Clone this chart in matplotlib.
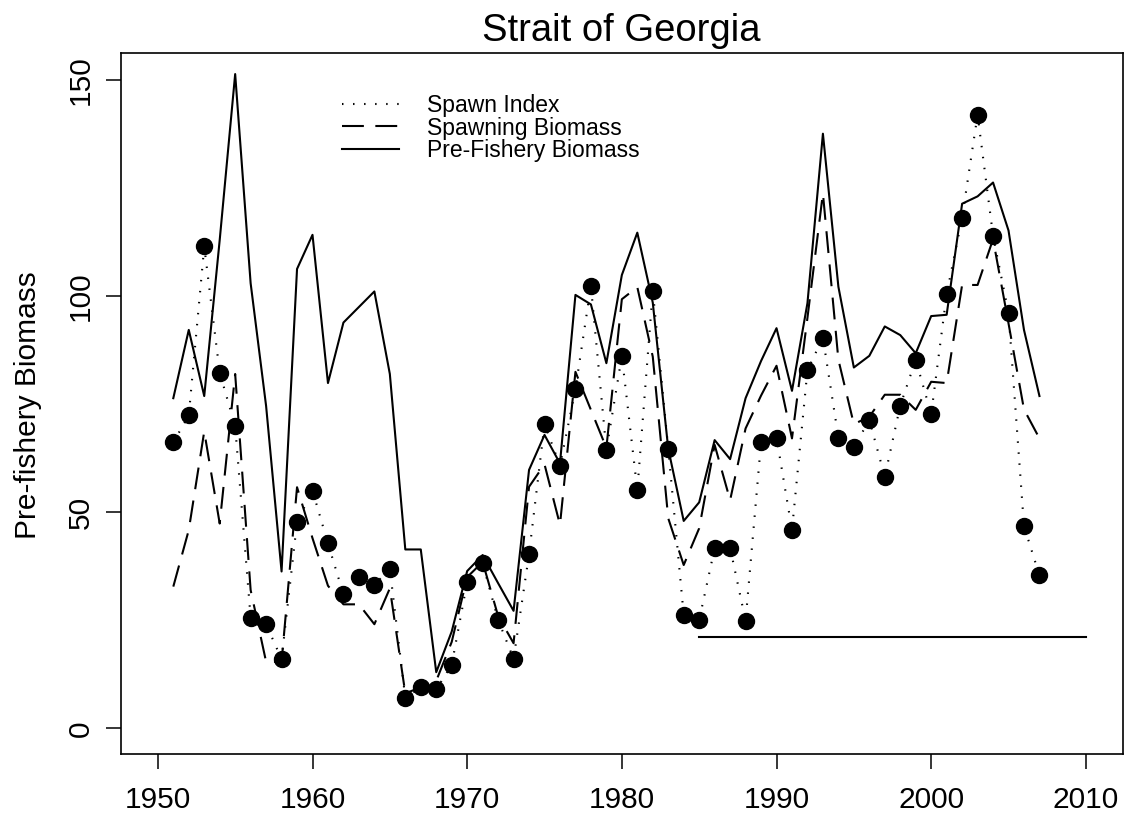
import numpy as np
import matplotlib
matplotlib.use('Agg')
import matplotlib.pyplot as plt

plt.rcParams['font.family'] = ['Liberation Sans', 'DejaVu Sans']

# 数据
years = list(range(1951, 2008))

spawn_index = [66.2, 72.4, 111.5, 82.3, 69.9, 25.6, 24.1, 16.0, 47.8, 55.0,
               42.8, 31.0, 35.1, 33.2, 36.9, 7.0, 9.5, 9.0, 14.7, 33.9,
               38.2, 25.1, 16.1, 40.3, 70.4, 60.8, 78.5, 102.4, 64.4, 86.2,
               55.1, 101.3, 64.7, 26.2, 25.1, 41.7, 41.8, 24.9, 66.2, 67.3,
               45.9, 82.9, 90.4, 67.3, 65.0, 71.4, 58.2, 74.7, 85.3, 72.7,
               100.5, 118.2, 142.0, 114.0, 96.1, 46.8, 35.4]

spawning_biomass = [32.8, 45.9, 68.7, 47.4, 82.0, 32.0, 15.4, 15.4, 55.8, 44.0,
                    33.0, 28.7, 28.7, 24.1, 32.4, 8.1, 9.5, 11.0, 20.0, 35.0,
                    38.5, 26.0, 19.7, 55.9, 61.1, 47.1, 82.5, 73.7, 64.9, 99.3,
                    102.1, 86.0, 48.6, 37.8, 46.3, 65.6, 52.8, 69.4, 77.0, 83.9,
                    67.1, 95.0, 123.8, 85.3, 70.4, 72.1, 77.2, 77.2, 73.7, 80.2,
                    79.9, 102.6, 102.6, 113.2, 93.7, 73.8, 67.1]

pre_fishery = [76.4, 92.2, 76.9, 113.0, 151.4, 103.0, 74.6, 36.3, 106.3, 114.2,
               79.9, 93.9, 97.5, 101.1, 82.0, 41.4, 41.4, 13.0, 22.4, 36.4,
               40.1, 33.6, 27.2, 59.8, 67.9, 61.3, 100.3, 98.1, 84.5, 104.9,
               114.7, 98.5, 64.7, 48.0, 52.3, 66.7, 62.3, 76.4, 85.0, 92.6,
               78.1, 98.4, 137.6, 102.2, 83.5, 86.2, 93.0, 91.0, 86.8, 95.4,
               95.7, 121.4, 123.1, 126.3, 115.2, 92.2, 76.9]

cutoff_years = [1985, 2010]
cutoff_level = [21.1, 21.1]

x_ticks = [1950, 1960, 1970, 1980, 1990, 2000, 2010]
y_ticks = [0, 50, 100, 150]

dotted = (0, (0.7, 4.6))
longdash = (0, (10.5, 5.5))

# 绘图
fig = plt.figure(figsize=(11.25, 8.19), dpi=100)
ax = fig.add_axes([0.1073, 0.0790, 0.8909, 0.8559])

ax.plot(years, spawn_index, color='black', lw=1.5, linestyle=dotted,
        marker='o', markersize=11.5)
ax.plot(years, spawning_biomass, color='black', lw=1.5, linestyle=longdash)
ax.plot(years, pre_fishery, color='black', lw=1.5)
ax.plot(cutoff_years, cutoff_level, color='black', lw=1.5)

ax.set_xlim(1947.6, 2012.4)
ax.set_ylim(-6.0, 156.2)
ax.set_xticks(x_ticks)
ax.set_yticks(y_ticks)
ax.tick_params(axis='both', direction='out', length=10.6, width=1.1, labelsize=21.5)
ax.tick_params(axis='x', pad=12)
ax.tick_params(axis='y', pad=8)
for lab in ax.get_yticklabels():
    lab.set_rotation(90)
    lab.set_va('center')
for sp in ax.spines.values():
    sp.set_linewidth(1.2)

fig.text(28 / 1125, 1 - 405 / 819, 'Pre-fishery Biomass', rotation=90,
         ha='center', va='center', fontsize=21.5)
fig.text(0.5525, 1 - 41 / 819, 'Strait of Georgia', ha='center', va='baseline',
         fontsize=27.5)

leg = ax.legend(handles=[plt.Line2D([], [], color='black', lw=1.5, linestyle=dotted),
                         plt.Line2D([], [], color='black', lw=1.5, linestyle=longdash),
                         plt.Line2D([], [], color='black', lw=1.5)],
                labels=['Spawn Index', 'Spawning Biomass', 'Pre-Fishery Biomass'],
                loc='upper left', bbox_to_anchor=(0.2208, 0.9420), frameon=False,
                fontsize=16.5, handlelength=2.5, handletextpad=1.2,
                labelspacing=-0.02, borderpad=0, borderaxespad=0)

fig.savefig('out.png', dpi=100)
